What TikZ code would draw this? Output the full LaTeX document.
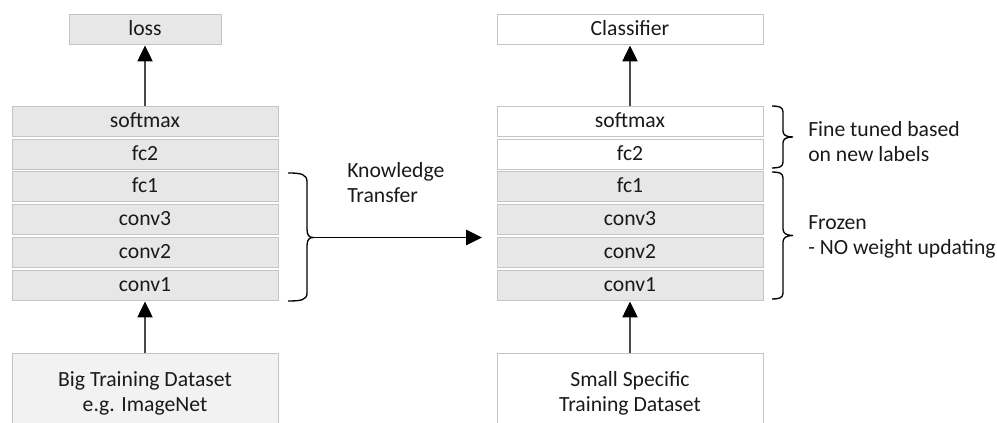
\documentclass[tikz,border=0pt]{standalone}
\usepackage{fontspec}
\setmainfont{Carlito}
\usetikzlibrary{arrows.meta}
\definecolor{layerfill}{HTML}{E7E7E7}
\definecolor{layerline}{HTML}{C4C4C4}
\definecolor{datafill}{HTML}{F2F2F2}
\definecolor{ink}{HTML}{1A1A1A}
\definecolor{wire}{HTML}{4A4A4A}
\begin{document}
\begin{tikzpicture}[x=0.75pt, y=-0.75pt,
  font=\fontsize{16.25}{18.75}\selectfont, text=ink,
  layer/.style={draw=layerline, line width=0.75pt, fill=layerfill,
    minimum width=199.5pt, minimum height=22.5pt, inner sep=0pt,
    text height=1.0em, text depth=0.16em},
  tuned/.style={layer, fill=white},
  data/.style={draw=layerline, line width=0.75pt, minimum width=199.5pt,
    minimum height=58.5pt, align=center, inner sep=0pt},
  flow/.style={draw=wire, line width=1pt,
    -{Triangle[length=12pt, width=11.5pt, color=black]}},
  bracket/.style={draw=black, line width=1pt},
  note/.style={align=left, inner sep=0pt, anchor=base west}]

\clip (0,0) rectangle (997,423);

% pre-trained network
\node[layer, minimum width=114pt] (loss) at (145,30) {loss};
\node[layer] (smL)  at (145,122)   {softmax};
\node[layer] (fc2L) at (145,154.5) {fc2};
\node[layer] (fc1L) at (145,187)   {fc1};
\node[layer] (c3L)  at (145,220)   {conv3};
\node[layer] (c2L)  at (145,253)   {conv2};
\node[layer] (c1L)  at (145,286)   {conv1};
\node[data, fill=datafill] (bigD) at (145,393) {Big Training Dataset\\e.g. ImageNet};

\draw[flow] (bigD) -- (c1L);
\draw[flow] (smL) -- (loss);

% transferred network
\node[tuned] (cls)  at (630,30)    {Classifier};
\node[tuned] (smR)  at (630,122)   {softmax};
\node[tuned] (fc2R) at (630,154.5) {fc2};
\node[layer] (fc1R) at (630,187)   {fc1};
\node[layer] (c3R)  at (630,220)   {conv3};
\node[layer] (c2R)  at (630,253)   {conv2};
\node[layer] (c1R)  at (630,286)   {conv1};
\node[data, fill=white] (smallD) at (630,393) {Small Specific\\Training Dataset};

\draw[flow] (smallD) -- (c1R);
\draw[flow] (smR) -- (cls);

% brace over the transferred layers
\draw[bracket] (288,173) .. controls (301,173) and (307,174) .. (307,182)
  -- (307,229) .. controls (307,235) and (309,237.5) .. (313,237.5)
  .. controls (309,237.5) and (307,240) .. (307,246)
  -- (307,293) .. controls (307,300) and (301,301) .. (288,301);
\coordinate (ktStart) at (313,237.5);
\coordinate (ktEnd) at (482,237.5);
\draw[flow, draw=black, line width=1.2pt] (ktStart) -- (ktEnd);
% multi-line notes are anchored at the baseline of their last line
\node[note] (kt) at (347,203) {Knowledge\\Transfer};

% braces on the right
\draw[bracket] (772,106) .. controls (779,106) and (783,107) .. (783,112)
  -- (783,131) .. controls (783,135) and (786,137) .. (793,137)
  .. controls (786,137) and (783,139) .. (783,143)
  -- (783,162) .. controls (783,167) and (779,168) .. (772,168);
\node[note] (ft) at (808,162) {Fine tuned based\\on new labels};

\draw[bracket] (772,172) .. controls (779,172) and (783,173) .. (783,178)
  -- (783,229) .. controls (783,233) and (786,235.5) .. (793,235.5)
  .. controls (786,235.5) and (783,238) .. (783,242)
  -- (783,293) .. controls (783,298) and (779,299) .. (772,299);
\node[note] (fz) at (808,255) {Frozen\\- NO weight updating};
\end{tikzpicture}
\end{document}
